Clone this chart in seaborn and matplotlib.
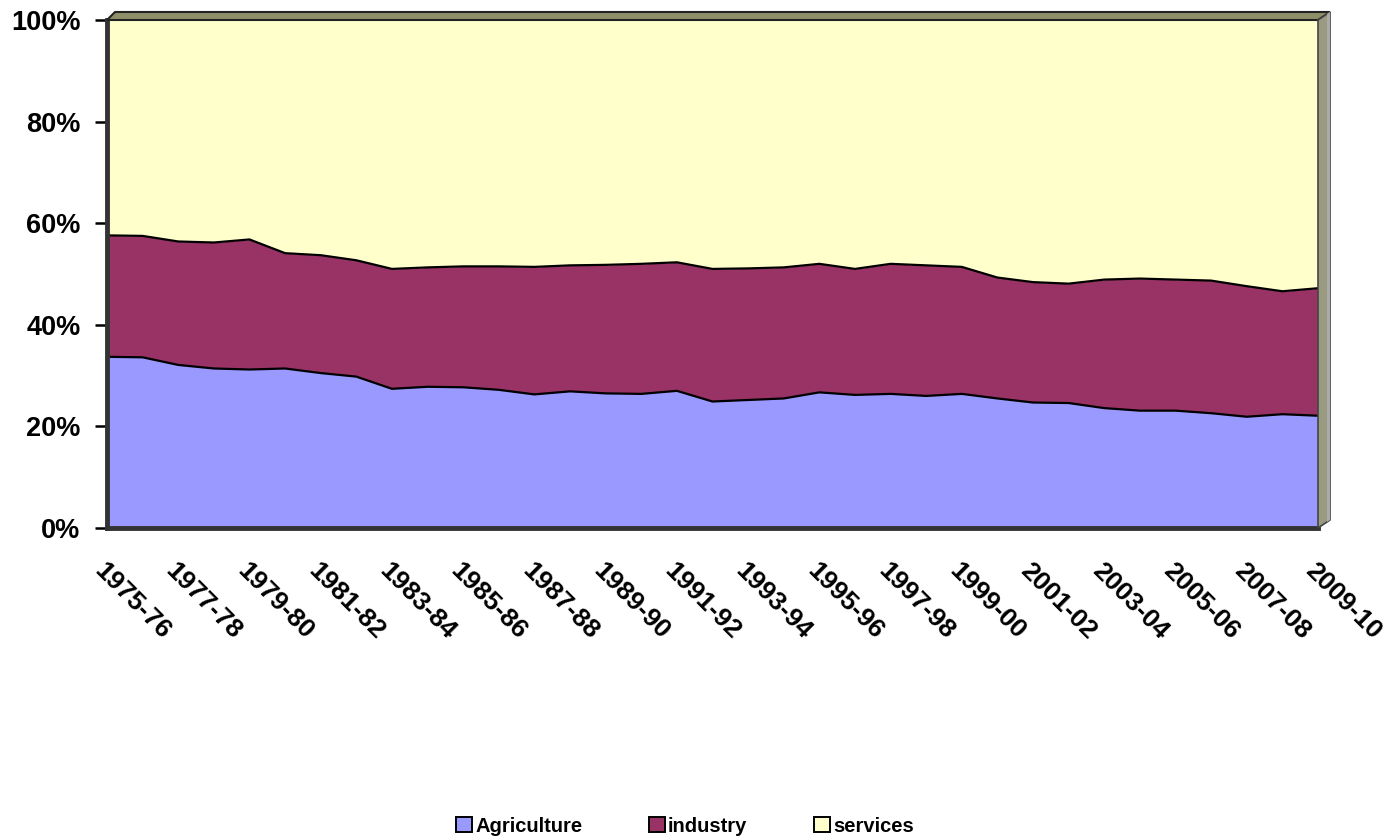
import numpy as np
import pandas as pd
import matplotlib
matplotlib.use("Agg")
import matplotlib.pyplot as plt
import seaborn as sns
from matplotlib.patches import Patch, Polygon

years = [f"{y}-{str(y + 1)[-2:]}" for y in range(1975, 2010)]

agriculture = [33.7, 33.6, 32.1, 31.4, 31.2, 31.4, 30.5, 29.8, 27.4, 27.8,
               27.7, 27.2, 26.3, 26.9, 26.5, 26.4, 27.0, 24.9, 25.2, 25.5,
               26.7, 26.2, 26.4, 26.0, 26.4, 25.5, 24.7, 24.6, 23.6, 23.1,
               23.1, 22.6, 21.9, 22.4, 22.1]
industry = [23.9, 23.9, 24.3, 24.8, 25.6, 22.7, 23.2, 22.9, 23.6, 23.5,
            23.8, 24.3, 25.1, 24.8, 25.3, 25.6, 25.3, 26.1, 25.9, 25.8,
            25.3, 24.8, 25.6, 25.7, 25.0, 23.8, 23.7, 23.5, 25.3, 26.0,
            25.8, 26.1, 25.7, 24.2, 25.1]
services = [42.4, 42.5, 43.6, 43.8, 43.2, 45.9, 46.3, 47.3, 49.0, 48.7,
            48.5, 48.5, 48.6, 48.3, 48.2, 48.0, 47.7, 49.0, 48.9, 48.7,
            48.0, 49.0, 48.0, 48.3, 48.6, 50.7, 51.6, 51.9, 51.1, 50.9,
            51.1, 51.3, 52.4, 53.4, 52.8]

series_names = ["Agriculture", "industry", "services"]
colors = ["#9999FF", "#993366", "#FFFFCC"]
ytick_vals = [0, 20, 40, 60, 80, 100]
ytick_labels = ["0%", "20%", "40%", "60%", "80%", "100%"]

sns.set_theme(style="white")
plt.rcParams["font.family"] = ["Liberation Sans", "DejaVu Sans"]
plt.rcParams["font.weight"] = "bold"
plt.rcParams["text.color"] = "black"
plt.rcParams["xtick.color"] = "black"
plt.rcParams["ytick.color"] = "black"

df = pd.DataFrame({"period": years, "Agriculture": agriculture,
                   "industry": industry, "services": services})
df["x"] = np.arange(len(df))
vals = df[series_names].to_numpy()
pct = vals / vals.sum(axis=1, keepdims=True) * 100
cum = np.cumsum(pct, axis=1)

W, H = 1392, 836
fig = plt.figure(figsize=(W / 100, H / 100), dpi=100)
L, R, T, B = 107, 1318, 20, 528
ax = fig.add_axes([L / W, 1 - B / H, (R - L) / W, (B - T) / H])

ax.stackplot(df["x"], pct.T, colors=colors, linewidth=0)
for i in range(2):
    sns.lineplot(x=df["x"], y=cum[:, i], ax=ax, color="black", linewidth=1.6,
                 legend=False)

ax.set_xlim(0, len(df) - 1)
ax.set_ylim(0, 100)
ax.set_xlabel("")
ax.set_ylabel("")

ax.set_yticks(ytick_vals)
ax.set_yticklabels(ytick_labels, fontsize=19.5, fontweight="bold", color="black")
ax.tick_params(axis="y", length=9, width=1.8, color="black", direction="out",
               pad=10, left=True)

major = list(range(0, len(df), 2))
ax.set_xticks(major)
ax.set_xticklabels([years[i] for i in major], rotation=-45, ha="left",
                   va="top", rotation_mode="anchor", fontsize=19,
                   fontweight="bold", color="black")
ax.tick_params(axis="x", which="major", length=0, pad=22)
ax.set_xticks(list(range(0, len(df), 10)), minor=True)
ax.tick_params(axis="x", which="minor", length=9, width=1.8, color="black",
               direction="out", bottom=True)

for s in ["top", "right"]:
    ax.spines[s].set_visible(False)
for s in ["left", "bottom"]:
    ax.spines[s].set_color("#333333")
    ax.spines[s].set_linewidth(3.5)

def fp(x, y):
    return (x / W, 1 - y / H)

top_band = Polygon([fp(L, T), fp(L + 8, T - 8), fp(R + 12, T - 8), fp(R, T)],
                   closed=True, transform=fig.transFigure, facecolor="#8f8f6a",
                   edgecolor="#222222", linewidth=1.5, clip_on=False)
right_wall = Polygon([fp(R, T), fp(R + 12, T - 8), fp(R + 12, B - 8), fp(R, B)],
                     closed=True, transform=fig.transFigure, facecolor="#9a9a80",
                     edgecolor="#444444", linewidth=1.2, clip_on=False)
right_edge = Polygon([fp(R + 9, T - 6), fp(R + 12, T - 8), fp(R + 12, B - 8),
                      fp(R + 9, B - 6)], closed=True, transform=fig.transFigure,
                     facecolor="#aaaaaa", edgecolor="none", clip_on=False)
fig.patches.extend([top_band, right_wall, right_edge])

handles = [Patch(facecolor=c, edgecolor="black", linewidth=1.4) for c in colors]
leg = fig.legend(handles, series_names, loc="center",
                 bbox_to_anchor=(0.492, 1 - 826 / H), ncol=3, frameon=False,
                 handlelength=0.8, handleheight=0.8, handletextpad=0.15,
                 columnspacing=3.3, prop={"weight": "bold", "size": 14.5})
for t in leg.get_texts():
    t.set_color("black")

fig.savefig("out.png", dpi=100, facecolor="white")
